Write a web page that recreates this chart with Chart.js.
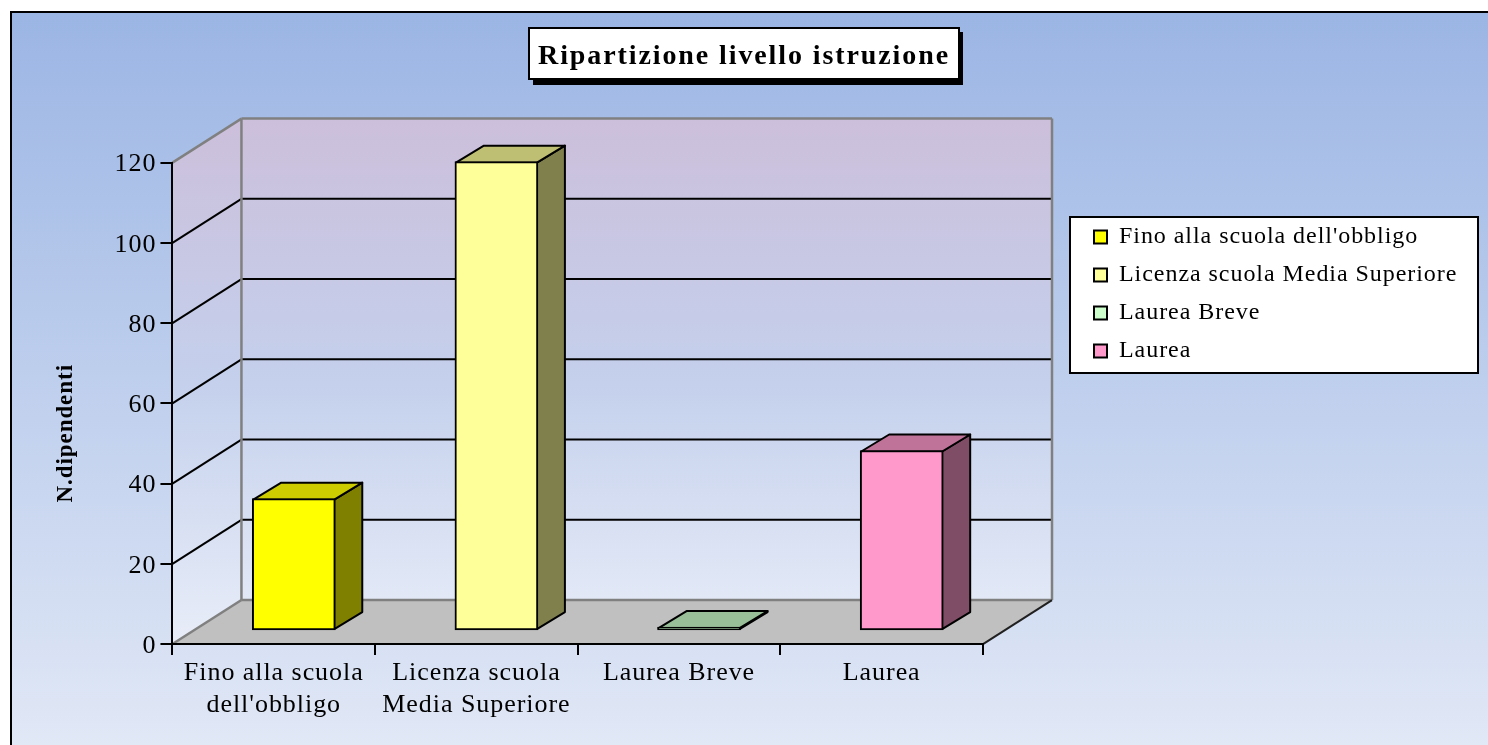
<!DOCTYPE html>
<html>
<head>
<meta charset="utf-8">
<style>html,body{margin:0;padding:0;background:#fff;overflow:hidden}canvas{display:block}</style>
<script src="https://cdn.jsdelivr.net/npm/chart.js@4"></script>
</head>
<body>
<canvas id="c" width="1488" height="745"></canvas>
<script>
const categories = ["Fino alla scuola dell'obbligo", "Licenza scuola Media Superiore", "Laurea Breve", "Laurea"];
const tickLabels = [["Fino alla scuola", "dell'obbligo"], ["Licenza scuola", "Media Superiore"], ["Laurea Breve"], ["Laurea"]];
const values = [33, 117, 1, 45];
const barColors = ["#ffff00", "#ffff99", "#ccffcc", "#ff99cc"];
const sideColors = ["#808000", "#80804d", "#668066", "#804d66"];
const topColors = ["#cccc00", "#bfbf73", "#99bf99", "#bf7399"];
const yTicks = [0, 20, 40, 60, 80, 100, 120];
const titleText = "Ripartizione livello istruzione";
const yTitleText = "N.dipendenti";

const FONT = "'Liberation Serif'";
const WALL = {dx: 69, dy: -44};
const BAR = {dx: 20, dy: -13, sx: 28, sy: -17};

function poly(ctx, pts, fill, stroke, lw) {
  ctx.beginPath();
  pts.forEach((p, i) => i ? ctx.lineTo(p[0], p[1]) : ctx.moveTo(p[0], p[1]));
  ctx.closePath();
  if (fill) { ctx.fillStyle = fill; ctx.fill(); }
  if (stroke) { ctx.strokeStyle = stroke; ctx.lineWidth = lw; ctx.lineJoin = 'round'; ctx.stroke(); }
}
function line(ctx, x1, y1, x2, y2, color, lw) {
  ctx.beginPath(); ctx.moveTo(x1, y1); ctx.lineTo(x2, y2);
  ctx.strokeStyle = color; ctx.lineWidth = lw; ctx.stroke();
}

const scene = {
  id: 'scene',
  afterInit(chart) { chart.ctx.letterSpacing = '0.95px'; },
  afterLayout(chart) {
    const lg = chart.legend;
    lg.left = 1080; lg.right = 1480; lg.top = 211; lg.bottom = 420;
    const s = chart.scales.y;
    if (!s._shifted) {
      const orig = s.drawTitle;
      s.drawTitle = function () {
        const c = this.ctx; c.save(); c.translate(0, 30); orig.call(this); c.restore();
      };
      s._shifted = true;
    }
    const tb = chart.titleBlock;
    tb.left = 0; tb.right = chart.width;
    if (!tb._spaced) {
      const origDraw = tb.draw;
      tb.draw = function () {
        const c = this.ctx; c.save(); c.letterSpacing = '1.9px'; origDraw.call(this); c.restore();
      };
      tb._spaced = true;
    }
  },
  beforeDraw(chart) {
    const ctx = chart.ctx, W = chart.width, H = chart.height;
    const x = chart.scales.x, y = chart.scales.y;
    ctx.save();
    ctx.fillStyle = '#ffffff'; ctx.fillRect(0, 0, W, H);
    const bg = ctx.createLinearGradient(0, 12, 0, H);
    bg.addColorStop(0, '#9bb5e4'); bg.addColorStop(1, '#e1e8f6');
    ctx.fillStyle = bg; ctx.fillRect(11, 12, W, H);
    ctx.strokeStyle = '#000'; ctx.lineWidth = 2; ctx.strokeRect(11, 12, W + 20, H + 20);

    const L = x.left, R = x.right, T = y.getPixelForValue(120), B = y.getPixelForValue(0);
    const d = WALL;
    const wall = ctx.createLinearGradient(0, T + d.dy, 0, B);
    wall.addColorStop(0, '#ccbfdb'); wall.addColorStop(0.5, '#c4d0ec'); wall.addColorStop(1, '#e8edf8');
    poly(ctx, [[L, T], [L + d.dx, T + d.dy], [R + d.dx, T + d.dy], [R + d.dx, B + d.dy], [L + d.dx, B + d.dy], [L, B]], wall);
    poly(ctx, [[L, B], [R, B], [R + d.dx, B + d.dy], [L + d.dx, B + d.dy]], '#c0c0c0');

    yTicks.forEach(v => {
      if (v === 0 || v === 120) return;
      const py = y.getPixelForValue(v);
      line(ctx, L, py, L + d.dx, py + d.dy, '#000', 2);
      line(ctx, L + d.dx, py + d.dy, R + d.dx, py + d.dy, '#000', 2);
    });
    const gray = '#808080';
    line(ctx, L, T, L + d.dx, T + d.dy, gray, 2.5);
    line(ctx, L + d.dx, T + d.dy, R + d.dx, T + d.dy, gray, 2.5);
    line(ctx, R + d.dx, T + d.dy, R + d.dx, B + d.dy, gray, 2.5);
    line(ctx, L + d.dx, T + d.dy, L + d.dx, B + d.dy, gray, 2.5);
    line(ctx, L, B, L + d.dx, B + d.dy, gray, 2.5);
    line(ctx, L + d.dx, B + d.dy, R + d.dx, B + d.dy, gray, 2.5);
    line(ctx, R, B, R + d.dx, B + d.dy, '#202020', 2);

    // title box with drop shadow
    ctx.fillStyle = '#000'; ctx.fillRect(533, 32, 430, 53);
    ctx.fillStyle = '#fff'; ctx.fillRect(529, 28, 430, 51);
    ctx.strokeStyle = '#000'; ctx.lineWidth = 2; ctx.strokeRect(529, 28, 430, 51);
    // legend box
    ctx.fillStyle = '#fff'; ctx.fillRect(1070, 217, 408, 156);
    ctx.strokeStyle = '#000'; ctx.lineWidth = 2; ctx.strokeRect(1070, 217, 408, 156);
    ctx.restore();
  },
  beforeDatasetsDraw(chart) {
    const ctx = chart.ctx;
    ctx.save();
    ctx.translate(BAR.dx, BAR.dy);
    chart.getDatasetMeta(0).data.forEach((b, i) => {
      const l = b.x - b.width / 2, r = b.x + b.width / 2, t = b.y, bt = b.base;
      const s = BAR;
      poly(ctx, [[r - 1, t + 1], [r - 1 + s.sx, t + 1 + s.sy], [r - 1 + s.sx, bt - 1 + s.sy], [r - 1, bt - 1]], sideColors[i], '#000', 2);
      poly(ctx, [[l + 1, t + 1], [l + 1 + s.sx, t + 1 + s.sy], [r - 1 + s.sx, t + 1 + s.sy], [r - 1, t + 1]], topColors[i], '#000', 2);
    });
  },
  afterDatasetsDraw(chart) { chart.ctx.restore(); }
};

new Chart(document.getElementById('c'), {
  type: 'bar',
  data: {
    labels: categories,
    datasets: [{
      data: values,
      backgroundColor: barColors,
      borderColor: '#000',
      borderWidth: 2,
      borderSkipped: false,
      barThickness: 83,
      clip: false
    }]
  },
  plugins: [scene],
  options: {
    responsive: false,
    animation: false,
    devicePixelRatio: 1,
    layout: {padding: {left: 14, right: 182, top: 0, bottom: 22}},
    plugins: {
      tooltip: {enabled: false},
      title: {
        display: true,
        text: titleText,
        color: '#000',
        font: {family: FONT, size: 28, weight: 'bold', lineHeight: 1.2},
        padding: {top: 40, bottom: 89}
      },
      legend: {
        display: true,
        position: 'right',
        align: 'start',
        labels: {
          color: '#000',
          font: {family: FONT, size: 24},
          boxWidth: 13,
          boxHeight: 13,
          padding: 14,
          generateLabels: () => categories.map((c, i) => ({
            text: c, fillStyle: barColors[i], strokeStyle: '#000', lineWidth: 2, hidden: false, index: i
          }))
        }
      }
    },
    scales: {
      x: {
        grid: {drawOnChartArea: false, drawTicks: true, tickLength: 11, color: '#000', lineWidth: 2, offset: true},
        border: {color: '#000', width: 2},
        ticks: {
          color: '#000', font: {family: FONT, size: 26, lineHeight: 1.23}, padding: 2,
          autoSkip: false, maxRotation: 0,
          callback: (v, i) => tickLabels[i]
        }
      },
      y: {
        min: 0, max: 120,
        afterBuildTicks: s => { s.ticks = yTicks.map(v => ({value: v})); },
        grid: {drawOnChartArea: false, drawTicks: true, tickLength: 12, color: '#000', lineWidth: 2},
        border: {color: '#000', width: 2},
        ticks: {color: '#000', font: {family: FONT, size: 26}, padding: 4, labelOffset: 2},
        title: {
          display: true, text: yTitleText, color: '#000',
          font: {family: FONT, size: 23, weight: 'bold', lineHeight: 1.2},
          padding: {top: 38, bottom: 31}
        }
      }
    }
  }
});
</script>
</body>
</html>
